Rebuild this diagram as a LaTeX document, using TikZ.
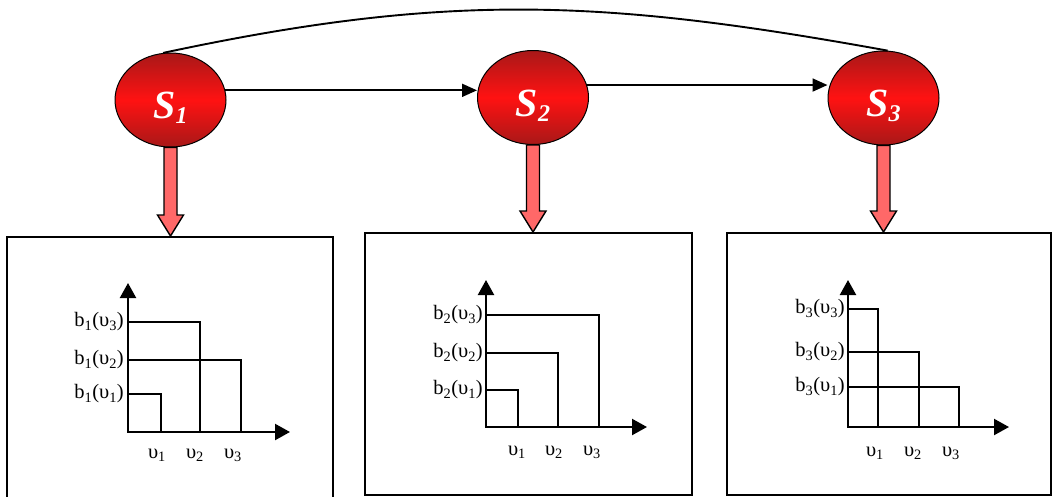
\documentclass[tikz,border=0pt]{standalone}
\usepackage{fontspec}
\setmainfont{Liberation Serif}
\usetikzlibrary{arrows.meta,calc,shapes.geometric}

\definecolor{stateedge}{RGB}{168,24,24}
\definecolor{statecore}{RGB}{255,18,18}
\definecolor{pinkfill}{RGB}{255,104,104}

% thick pink arrow from a state down to the top edge of its panel
\newcommand\statearrow[2]{%
  \coordinate (#1top) at (#1.south);
  \coordinate (#1tip) at (#1.south |- #2.north);
  \draw[pinkarrow] ($(#1top)+(-6.5,0)$) -- ($(#1tip)+(-6.5,-21)$) -- ($(#1tip)+(-13,-21)$)
    -- (#1tip) -- ($(#1tip)+(13,-21)$) -- ($(#1tip)+(6.5,-21)$) -- ($(#1top)+(6.5,0)$) -- cycle;}

\begin{document}
\begin{tikzpicture}[x=1pt,y=-1pt,
  state/.style={ellipse, draw=black, line width=1pt, minimum width=111pt, minimum height=94pt,
    inner sep=0pt, top color=stateedge, bottom color=stateedge, middle color=statecore},
  stext/.style={text=white, font=\fontsize{40}{40}\selectfont\bfseries\itshape, inner sep=0pt},
  link/.style={line width=1.9pt, -{Triangle[length=15pt,width=13pt]}},
  pinkarrow/.style={draw=black, line width=1.4pt, fill=pinkfill, line join=miter},
  panel/.style={draw=black, line width=1.6pt, inner sep=0pt, anchor=north west},
  axis/.style={line width=2.2pt, -{Triangle[length=15pt,width=16pt]}},
  bar/.style={line width=1.8pt},
  lab/.style={font=\fontsize{20.5}{20.5}\selectfont, inner sep=0pt},
]
\useasboundingbox (0,0) rectangle (1052,496);

% states
\node[state] (s1) at (170.5,100) {};
\node[state] (s2) at (533,97.5) {};
\node[state] (s3) at (883.5,98) {};
\node[stext] (t1) at ([yshift=-8pt]s1.center) {S\raisebox{-5pt}{\fontsize{24}{24}\selectfont 1}};
\node[stext] (t2) at ([yshift=-8pt]s2.center) {S\raisebox{-5pt}{\fontsize{24}{24}\selectfont 2}};
\node[stext] (t3) at ([yshift=-8pt]s3.center) {S\raisebox{-5pt}{\fontsize{24}{24}\selectfont 3}};

% transitions
\draw[line width=1.9pt] (s1.99) .. controls (448,-8) and (603,-1) .. (s3.85);
\draw[link] (s1.10) -- (s2.west |- s1.10);
\draw[link] (s2.13) -- (s3.west |- s2.13);

% panels
\node[panel, minimum width=326pt, minimum height=263pt] (p1) at (6,236) {};
\node[panel, minimum width=327pt, minimum height=262pt] (p2) at (364,232) {};
\node[panel, minimum width=324pt, minimum height=262pt] (p3) at (726,232) {};

\statearrow{s1}{p1}
\statearrow{s2}{p2}
\statearrow{s3}{p3}

% panel 1
\draw[bar] (128,394) -- (161,394) -- (161,432);
\draw[bar] (128,360) -- (241,360) -- (241,432);
\draw[bar] (128,322) -- (200,322) -- (200,432);
\draw[axis] (128,432) -- (128,283);
\draw[axis] (127,432) -- (290,432);
\node[lab, anchor=east] (a11) at (124,394) {b\textsubscript{1}(υ\textsubscript{1})};
\node[lab, anchor=east] (a12) at (124,360) {b\textsubscript{1}(υ\textsubscript{2})};
\node[lab, anchor=east] (a13) at (124,322) {b\textsubscript{1}(υ\textsubscript{3})};
\node[lab] (u11) at (157,455) {υ\textsubscript{1}};
\node[lab] (u12) at (195,455) {υ\textsubscript{2}};
\node[lab] (u13) at (233,455) {υ\textsubscript{3}};

% panel 2
\draw[bar] (486,390) -- (518,390) -- (518,427);
\draw[bar] (486,353) -- (558,353) -- (558,427);
\draw[bar] (486,315) -- (599,315) -- (599,427);
\draw[axis] (486,427) -- (486,280);
\draw[axis] (485,427) -- (647,427);
\node[lab, anchor=east] (a21) at (483,390) {b\textsubscript{2}(υ\textsubscript{1})};
\node[lab, anchor=east] (a22) at (483,353) {b\textsubscript{2}(υ\textsubscript{2})};
\node[lab, anchor=east] (a23) at (483,315) {b\textsubscript{2}(υ\textsubscript{3})};
\node[lab] (u21) at (517,452) {υ\textsubscript{1}};
\node[lab] (u22) at (554,452) {υ\textsubscript{2}};
\node[lab] (u23) at (592,452) {υ\textsubscript{3}};

% panel 3
\draw[bar] (848,309) -- (878,309) -- (878,427);
\draw[bar] (848,352) -- (919,352) -- (919,427);
\draw[bar] (848,387) -- (959,387) -- (959,427);
\draw[axis] (848,427) -- (848,280);
\draw[axis] (847,427) -- (1009,427);
\node[lab, anchor=east] (a31) at (845,387) {b\textsubscript{3}(υ\textsubscript{1})};
\node[lab, anchor=east] (a32) at (845,352) {b\textsubscript{3}(υ\textsubscript{2})};
\node[lab, anchor=east] (a33) at (845,309) {b\textsubscript{3}(υ\textsubscript{3})};
\node[lab] (u31) at (875,453) {υ\textsubscript{1}};
\node[lab] (u32) at (913,453) {υ\textsubscript{2}};
\node[lab] (u33) at (951,453) {υ\textsubscript{3}};
\end{tikzpicture}
\end{document}
